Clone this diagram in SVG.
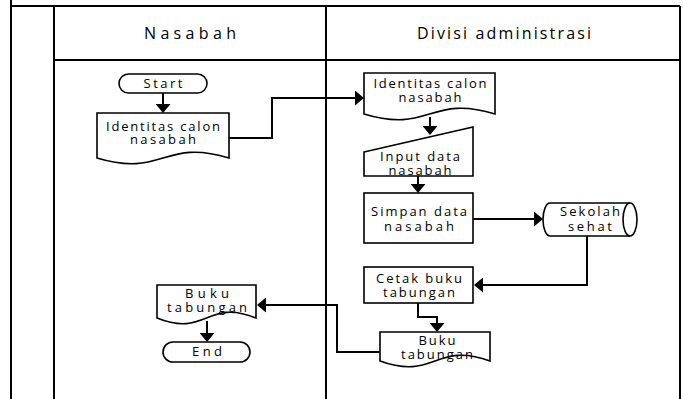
<svg xmlns="http://www.w3.org/2000/svg" width="683" height="399" viewBox="0 0 683 399">
<defs>
<marker id="ah" viewBox="0 0 9 15" refX="5" refY="7.5" markerWidth="9" markerHeight="15" markerUnits="userSpaceOnUse" orient="auto">
<path d="M0,0 L9,7.5 L0,15 Z" fill="#000"/>
</marker>
<style>
.lane{stroke:#000;stroke-width:2;fill:none}
.shape{stroke:#000;stroke-width:1.6;fill:#fff}
.conn{stroke:#000;stroke-width:2;fill:none;marker-end:url(#ah)}
text{font-family:"Open Sans","Noto Sans","Liberation Sans",sans-serif;fill:#000;text-anchor:middle}
.hdr{font-size:16px}
.lbl{font-size:13px}
</style>
</defs>
<rect width="683" height="399" fill="#fff"/>
<g id="lanes">
<path class="lane" d="M11,0 V399 M11,6 H680 M54,6 V399 M54,60 H680 M326,6 V399 M680,6 V399"/>
<text class="hdr" x="190" y="39" textLength="92" lengthAdjust="spacing">Nasabah</text>
<text class="hdr" x="504" y="39" textLength="174" lengthAdjust="spacing">Divisi administrasi</text>
</g>
<g id="connectors">
<path class="conn" d="M163,93 V109"/>
<path class="conn" d="M229,138 H272 V98 H360"/>
<path class="conn" d="M430,117 V131"/>
<path class="conn" d="M418,176 V189"/>
<path class="conn" d="M473,219 H539"/>
<path class="conn" d="M587,236 V285 H478"/>
<path class="conn" d="M418,303 V317 H437 V328"/>
<path class="conn" d="M380,352 H337 V305 H261"/>
<path class="conn" d="M207,321 V338"/>
</g>
<g id="start">
<rect class="shape" x="119" y="74" width="88" height="19" rx="9.5"/>
<text class="lbl" x="163" y="88" textLength="39" lengthAdjust="spacing">Start</text>
</g>
<g id="doc-identitas-nasabah">
<path class="shape" d="M97,113 H229 V158 C163,138 163,178 97,158 Z"/>
<text class="lbl" x="163" y="131" textLength="114" lengthAdjust="spacing">Identitas calon</text>
<text class="lbl" x="163" y="144" textLength="66" lengthAdjust="spacing">nasabah</text>
</g>
<g id="doc-buku-nasabah">
<path class="shape" d="M157,285 H256 V318 C206.5,298 206.5,338 157,318 Z"/>
<text class="lbl" x="207" y="298" textLength="44" lengthAdjust="spacing">Buku</text>
<text class="lbl" x="207" y="312" textLength="80" lengthAdjust="spacing">tabungan</text>
</g>
<g id="end">
<rect class="shape" x="163" y="342" width="87" height="20" rx="10"/>
<text class="lbl" x="207" y="356" textLength="30" lengthAdjust="spacing">End</text>
</g>
<g id="doc-identitas-admin">
<path class="shape" d="M364,73 H495 V114 C429.5,94 429.5,134 364,114 Z"/>
<text class="lbl" x="430" y="88" textLength="113" lengthAdjust="spacing">Identitas calon</text>
<text class="lbl" x="430" y="102" textLength="63" lengthAdjust="spacing">nasabah</text>
</g>
<g id="input-data">
<path class="shape" d="M364,152 L473,127 V176 H364 Z"/>
<text class="lbl" x="420" y="161" textLength="80" lengthAdjust="spacing">Input data</text>
<text class="lbl" x="420" y="175" textLength="63" lengthAdjust="spacing">nasabah</text>
</g>
<g id="simpan-data">
<rect class="shape" x="364" y="193" width="109" height="50"/>
<text class="lbl" x="419" y="216" textLength="96" lengthAdjust="spacing">Simpan data</text>
<text class="lbl" x="419" y="231" textLength="70" lengthAdjust="spacing">nasabah</text>
</g>
<g id="sekolah-sehat">
<path class="shape" d="M550,203 H630 A7,16.5 0 0 1 630,236 H550 A7,16.5 0 0 1 550,203 Z"/>
<path class="shape" d="M630,203 A7,16.5 0 0 0 630,236" fill="none"/>
<text class="lbl" x="590" y="216" textLength="60" lengthAdjust="spacing">Sekolah</text>
<text class="lbl" x="590" y="231" textLength="44" lengthAdjust="spacing">sehat</text>
</g>
<g id="cetak-buku">
<rect class="shape" x="364" y="267" width="109" height="36"/>
<text class="lbl" x="419" y="283" textLength="86" lengthAdjust="spacing">Cetak buku</text>
<text class="lbl" x="419" y="297" textLength="72" lengthAdjust="spacing">tabungan</text>
</g>
<g id="doc-buku-admin">
<path class="shape" d="M380,332 H490 V361 C435,341 435,381 380,361 Z"/>
<text class="lbl" x="437" y="345" textLength="37" lengthAdjust="spacing">Buku</text>
<text class="lbl" x="437" y="359" textLength="72" lengthAdjust="spacing">tabungan</text>
</g>
</svg>
